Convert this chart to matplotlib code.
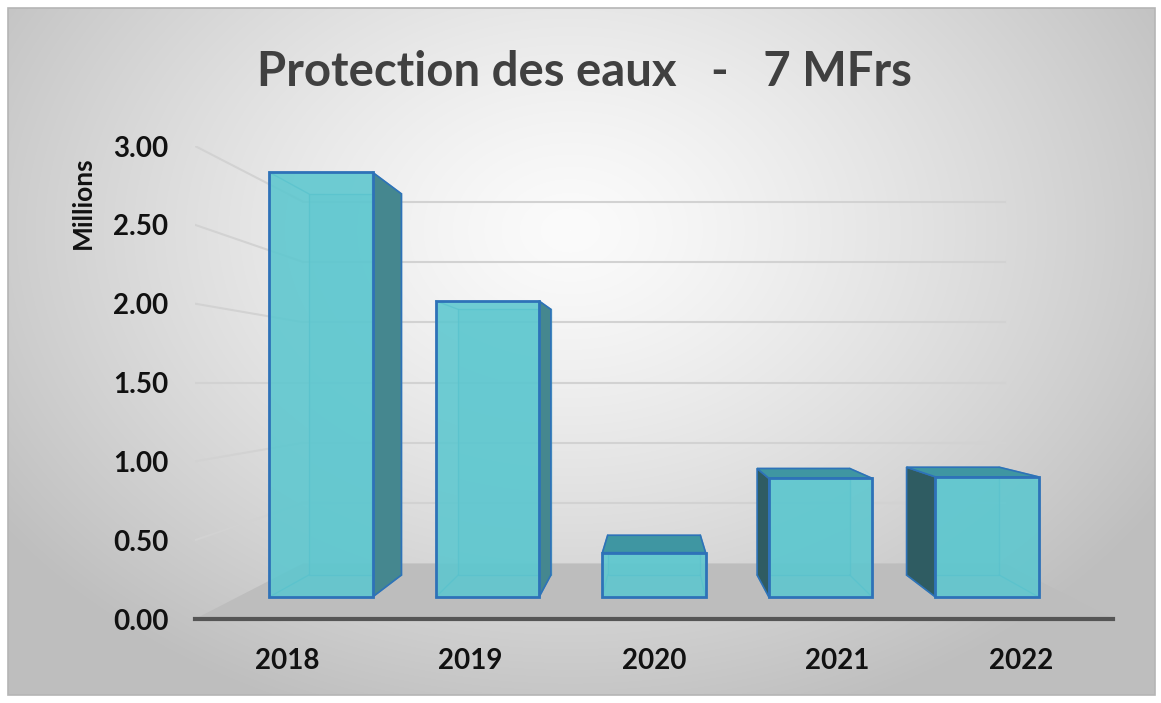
import numpy as np
import matplotlib
matplotlib.use('Agg')
from matplotlib import pyplot as plt
from matplotlib.patches import Polygon, Rectangle

plt.rcParams['font.family'] = ['Lato', 'DejaVu Sans']

# Data (millions)
YEARS = ['2018', '2019', '2020', '2021', '2022']
VALUES = [2.97, 2.07, 0.31, 0.83, 0.84]
Y_TICKS = [0.0, 0.5, 1.0, 1.5, 2.0, 2.5, 3.0]
TITLE = 'Protection des eaux   -   7 MFrs'
Y_LABEL = 'Millions'

# pseudo 3D settings (vanishing point in data units, depth scales)
VP_X = 2.5
VP_Y = 1.5
S_FLOOR_BACK = 0.765
S_BAR_FRONT = 0.907
S_BAR_BACK = 0.814
BAR_W = 0.62

FACE = '#5cc7cf'
EDGE = '#2e72b8'
SIDE_R = '#45878f'
SIDE_L = '#2f5c62'
TOP = '#3f96a2'
GRID = '#d2d2d2'
FLOOR = '#bdbdbd'


def proj(x, y, s):
    return (VP_X + s * (x - VP_X), VP_Y + s * (y - VP_Y))


def draw_bar(ax, xc, v):
    x0, x1 = xc - BAR_W / 2, xc + BAR_W / 2
    f = [proj(x0, 0, S_BAR_FRONT), proj(x1, 0, S_BAR_FRONT),
         proj(x1, v, S_BAR_FRONT), proj(x0, v, S_BAR_FRONT)]
    b = [proj(x0, 0, S_BAR_BACK), proj(x1, 0, S_BAR_BACK),
         proj(x1, v, S_BAR_BACK), proj(x0, v, S_BAR_BACK)]

    # back face and hidden edges, seen through the glass
    ax.add_patch(Polygon(b, closed=True, facecolor=FACE, alpha=0.35,
                         edgecolor='none', zorder=3))
    ax.add_patch(Polygon(b, closed=True, fill=False, edgecolor='#3c9cbc',
                         lw=1.0, alpha=0.7, zorder=3.1))
    for k in range(4):
        ax.plot([f[k][0], b[k][0]], [f[k][1], b[k][1]], color='#3c9cbc',
                lw=1.0, alpha=0.7, zorder=3.1)

    # visible side faces
    if x1 < VP_X:
        ax.add_patch(Polygon([f[1], b[1], b[2], f[2]], closed=True,
                             facecolor=SIDE_R, edgecolor=EDGE, lw=1.2,
                             zorder=3.2))
    if x0 > VP_X:
        ax.add_patch(Polygon([f[0], b[0], b[3], f[3]], closed=True,
                             facecolor=SIDE_L, edgecolor=EDGE, lw=1.2,
                             zorder=3.2))
    if v < VP_Y:
        ax.add_patch(Polygon([f[3], f[2], b[2], b[3]], closed=True,
                             facecolor=TOP, edgecolor=EDGE, lw=1.2,
                             zorder=3.3))

    # front face
    ax.add_patch(Polygon(f, closed=True, facecolor=FACE, alpha=0.88,
                         edgecolor='none', zorder=3.4))
    ax.add_patch(Polygon(f, closed=True, fill=False, edgecolor=EDGE,
                         lw=2.0, zorder=3.5))


def main():
    fig = plt.figure(figsize=(11.61, 7.03), dpi=100)

    # radial background
    bg = fig.add_axes([0, 0, 1, 1])
    h, w = 703, 1161
    yy, xx = np.mgrid[0:h, 0:w]
    r = np.sqrt(((xx - 570) / 700.0) ** 2 + ((yy - 230) / 520.0) ** 2)
    t = np.clip(r, 0, 1) ** 1.3
    grey = 251 - (251 - 190) * t
    img = np.dstack([grey, grey, grey]) / 255.0
    img[:8, :] = 1.0
    img[-8:, :] = 1.0
    img[:, :8] = 1.0
    img[:, -6:] = 1.0
    bg.imshow(img, extent=(0, 1, 0, 1), aspect='auto', zorder=0)
    bg.add_patch(Rectangle((8 / w, 8 / h), 1 - 14 / w, 1 - 16 / h,
                           fill=False, edgecolor='#b5b5b5', lw=1.2))
    bg.set_xlim(0, 1)
    bg.set_ylim(0, 1)
    bg.axis('off')

    ax = fig.add_axes([195 / w, 84 / h, 918 / w, 473 / h])
    ax.set_xlim(0, 5)
    ax.set_ylim(0, 3)
    ax.patch.set_visible(False)
    for side in ['left', 'top', 'right']:
        ax.spines[side].set_visible(False)
    ax.spines['bottom'].set_color('#555555')
    ax.spines['bottom'].set_linewidth(3)
    ax.spines['bottom'].set_zorder(10)

    # walls gridlines
    for v in Y_TICKS[1:]:
        bx0, by0 = proj(0, v, S_FLOOR_BACK)
        bx1, by1 = proj(5, v, S_FLOOR_BACK)
        ax.plot([bx0, bx1], [by0, by1], color=GRID, lw=1.5, zorder=1)
        ax.plot([0, bx0], [v, by0], color=GRID, lw=1.5, zorder=1)

    # floor
    ax.add_patch(Polygon([(0, 0), (5, 0), proj(5, 0, S_FLOOR_BACK),
                          proj(0, 0, S_FLOOR_BACK)], closed=True,
                         facecolor=FLOOR, edgecolor='none', zorder=1.5))

    xs = np.arange(len(YEARS)) + 0.5
    for xc, v in zip(xs, VALUES):
        draw_bar(ax, xc, v)

    ax.set_yticks(Y_TICKS)
    ax.set_yticklabels([f'{v:.2f}' for v in Y_TICKS])
    ax.set_xticks(xs)
    ax.set_xticklabels(YEARS)
    ax.tick_params(axis='y', length=0, pad=19, labelsize=20, labelcolor='#111111')
    ax.tick_params(axis='x', length=0, pad=21, labelsize=20, labelcolor='#111111')
    for lab in ax.get_xticklabels() + ax.get_yticklabels():
        lab.set_fontweight('bold')

    fig.text(83 / w, 1 - 203 / h, Y_LABEL, rotation=90, ha='center',
             va='center', fontsize=19, fontweight='bold', color='#111111')
    fig.text(584 / w, 1 - 72 / h, TITLE, ha='center', va='center',
             fontsize=34, fontweight='bold', color='#404040')

    fig.savefig('out.png', dpi=100)
    plt.close(fig)


if __name__ == '__main__':
    main()
